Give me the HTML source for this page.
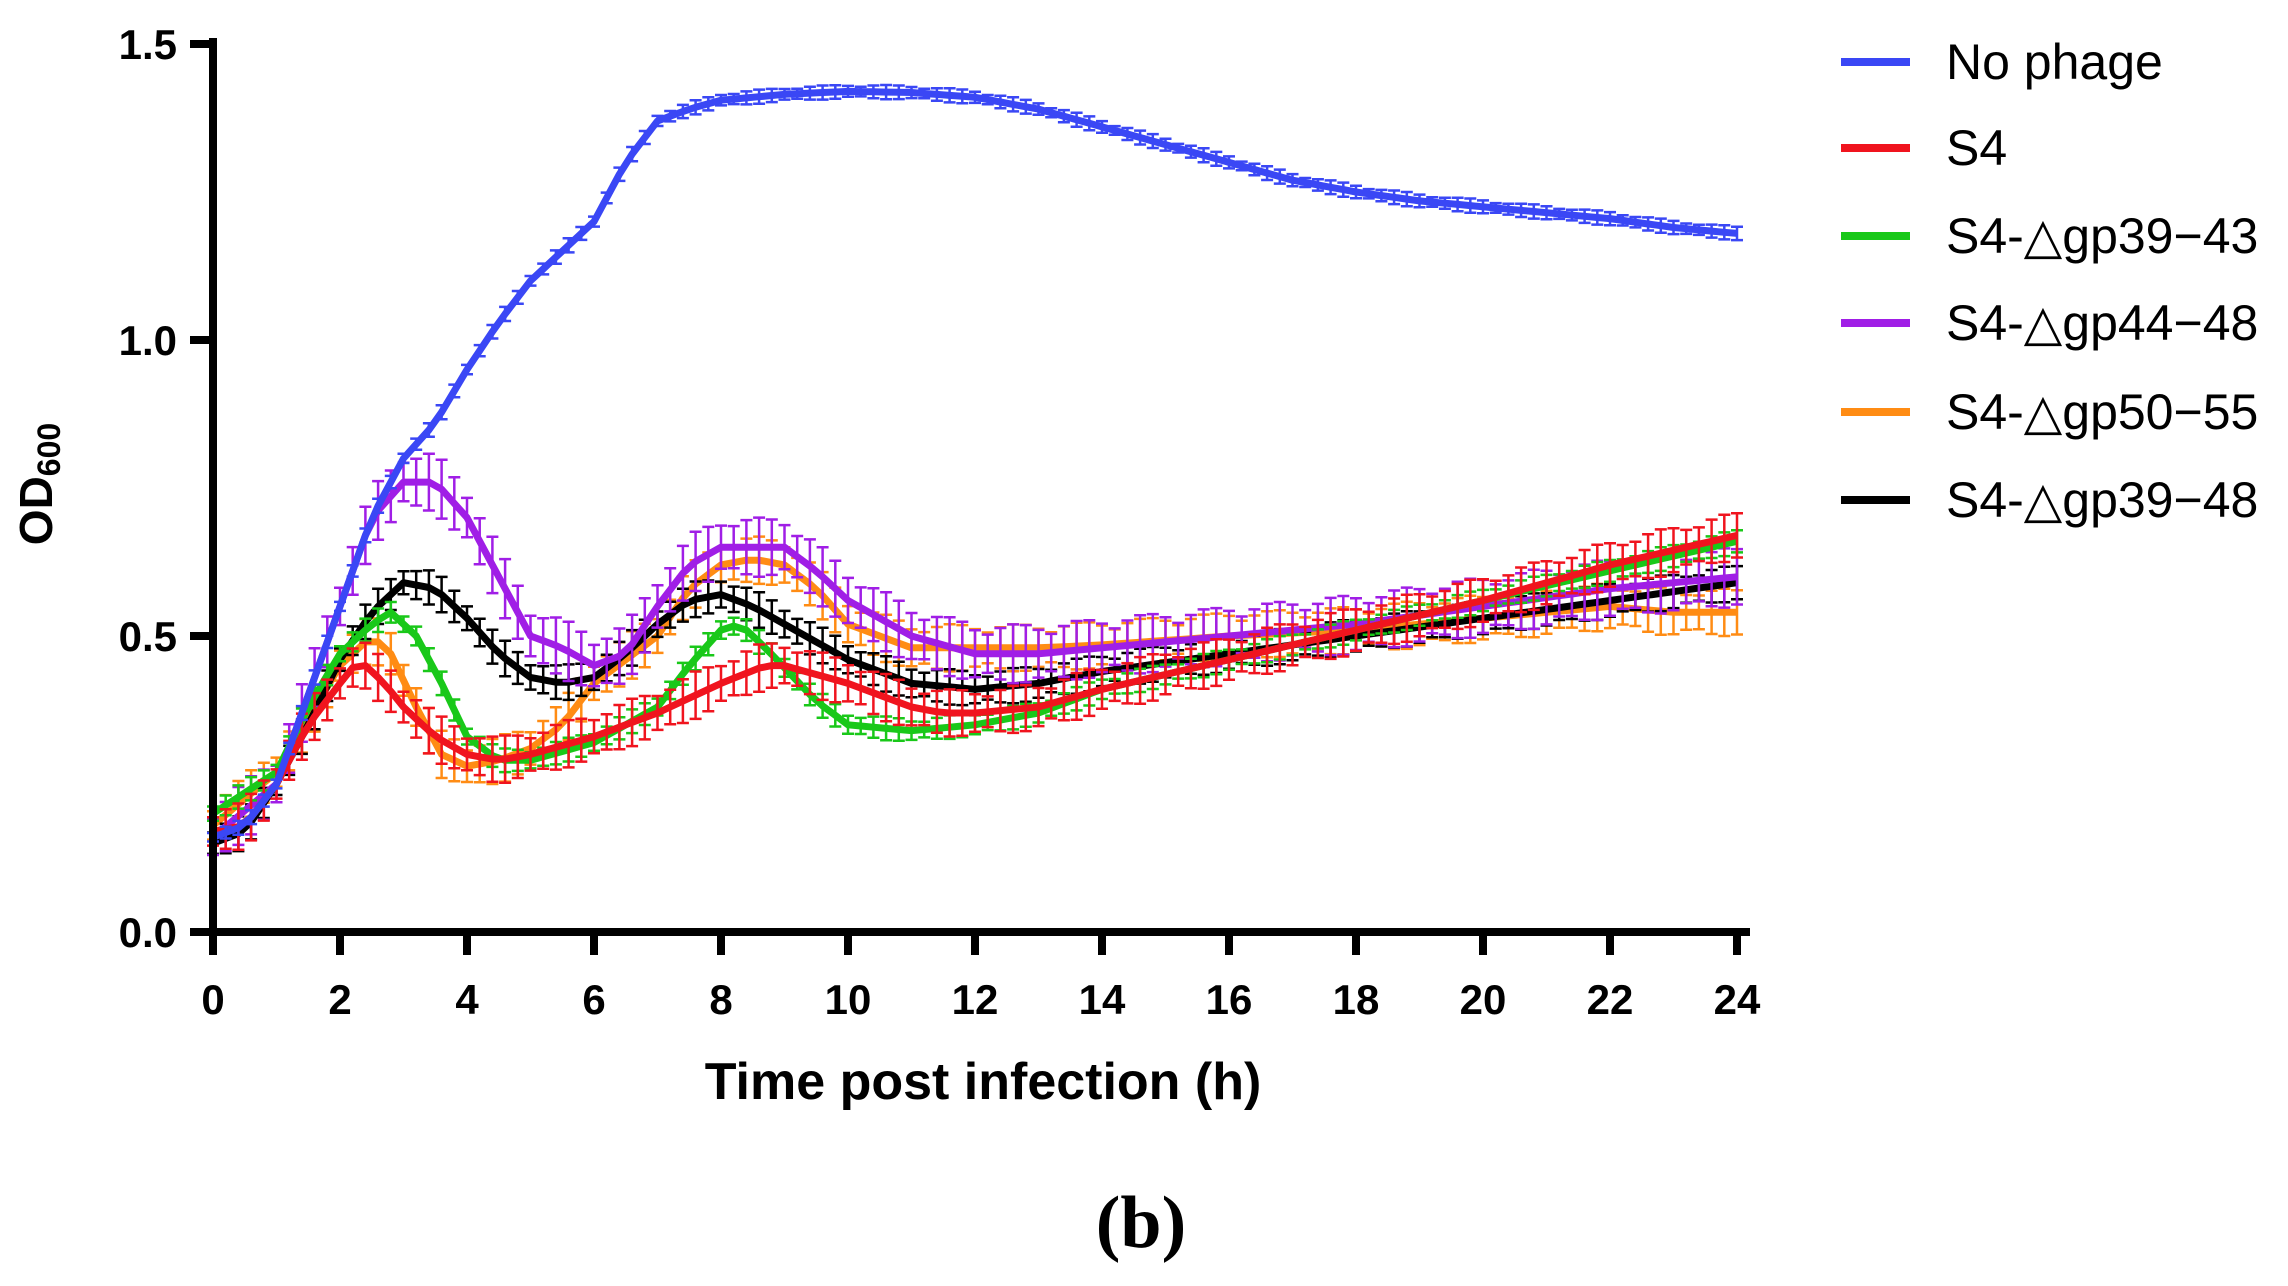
<!DOCTYPE html>
<html><head><meta charset="utf-8"><style>
html,body{margin:0;padding:0;background:#fff;}
svg{display:block;}
text{font-family:"Liberation Sans",Arial,sans-serif;}
</style></head><body>
<svg id="s" width="2288" height="1286" viewBox="0 0 2288 1286" xmlns="http://www.w3.org/2000/svg">
<g id="data"></g>
<line x1="213" y1="38" x2="213" y2="936" stroke="#000" stroke-width="8"/>
<line x1="209" y1="932" x2="1750" y2="932" stroke="#000" stroke-width="8"/>
<g stroke="#000" stroke-width="8" id="ticks"></g>
<g font-size="42" font-weight="bold" text-anchor="end">
<text x="177" y="947">0.0</text><text x="177" y="651">0.5</text><text x="177" y="355">1.0</text><text x="177" y="59">1.5</text>
</g>
<g font-size="42" font-weight="bold" text-anchor="middle" id="xl"></g>
<text x="983" y="1099" font-size="52" font-weight="bold" text-anchor="middle">Time post infection (h)</text>
<text transform="translate(52,484) rotate(-90)" font-size="46" font-weight="bold" text-anchor="middle">OD<tspan font-size="32" dy="8">600</tspan></text>
<text x="1141" y="1247" font-size="74" font-weight="bold" text-anchor="middle" style="font-family:'Liberation Serif',serif">(b)</text>
<g font-size="50">
<line x1="1841" y1="62" x2="1910" y2="62" stroke="#3a47f5" stroke-width="8"/><text x="1946" y="79">No phage</text>
<line x1="1841" y1="148" x2="1910" y2="148" stroke="#f0141e" stroke-width="8"/><text x="1946" y="165">S4</text>
<line x1="1841" y1="236" x2="1910" y2="236" stroke="#19c819" stroke-width="8"/><text x="1946" y="253">S4-△gp39−43</text>
<line x1="1841" y1="323" x2="1910" y2="323" stroke="#a01ee6" stroke-width="8"/><text x="1946" y="340">S4-△gp44−48</text>
<line x1="1841" y1="412" x2="1910" y2="412" stroke="#ff8c14" stroke-width="8"/><text x="1946" y="429">S4-△gp50−55</text>
<line x1="1841" y1="500" x2="1910" y2="500" stroke="#000" stroke-width="8"/><text x="1946" y="517">S4-△gp39−48</text>
</g>
</svg>
<script>
var NS="http://www.w3.org/2000/svg";
function X(t){return 213+t*63.5;}function Y(v){return 932-v*592;}
var tk=document.getElementById('ticks'),xl=document.getElementById('xl');
for(var i=0;i<=24;i+=2){var l=document.createElementNS(NS,'line');l.setAttribute('x1',X(i));l.setAttribute('x2',X(i));l.setAttribute('y1',932);l.setAttribute('y2',955);tk.appendChild(l);
var t=document.createElementNS(NS,'text');t.setAttribute('x',X(i));t.setAttribute('y',1014);t.textContent=i;xl.appendChild(t);}
[0,0.5,1,1.5].forEach(function(v){var l=document.createElementNS(NS,'line');l.setAttribute('x1',190);l.setAttribute('x2',213);l.setAttribute('y1',Y(v));l.setAttribute('y2',Y(v));tk.appendChild(l);});
function P(a){var r=[];for(var i=0;i<a.length;i+=2)r.push([a[i],a[i+1]]);return r;}
var S=[
["#ff8c14",P([0,0.18,1,0.27,2,0.45,2.5,0.5,2.8,0.47,3.2,0.38,3.6,0.3,4,0.28,4.5,0.29,5,0.31,5.5,0.35,6,0.42,7,0.5,7.5,0.58,8,0.62,8.5,0.63,9,0.62,9.5,0.58,10,0.52,11,0.48,12,0.48,13,0.48,14,0.485,16,0.5,18,0.51,20,0.53,22,0.55,23,0.54,24,0.54]),0.04],
["#000000",P([0,0.15,0.5,0.17,1,0.25,1.5,0.35,2,0.46,2.5,0.54,3,0.59,3.5,0.58,4,0.53,4.5,0.47,5,0.43,5.5,0.42,6,0.43,6.5,0.47,7,0.52,7.5,0.56,8,0.57,8.5,0.55,9,0.52,10,0.46,11,0.42,12,0.41,13,0.42,14,0.44,16,0.47,18,0.5,20,0.53,22,0.56,24,0.59]),0.03],
["#a01ee6",P([0,0.16,1,0.25,2,0.55,2.5,0.7,3,0.76,3.5,0.76,4,0.7,4.5,0.6,5,0.5,5.5,0.48,6,0.45,6.5,0.47,7,0.55,7.5,0.62,8,0.65,9,0.65,9.5,0.61,10,0.56,11,0.5,12,0.47,13,0.47,14,0.48,15,0.49,16,0.5,18,0.52,20,0.55,22,0.58,24,0.6]),0.05],
["#19c819",P([0,0.2,1,0.27,1.5,0.38,2,0.47,2.5,0.52,2.8,0.54,3.2,0.5,3.6,0.42,4,0.33,4.5,0.29,5,0.29,6,0.32,7,0.38,7.5,0.45,8,0.51,8.3,0.52,8.7,0.48,9.5,0.39,10,0.35,11,0.34,12,0.35,13,0.37,14,0.41,16,0.46,18,0.51,20,0.56,22,0.61,24,0.66]),0.02],
["#f0141e",P([0,0.17,0.5,0.18,1,0.25,1.5,0.35,2,0.42,2.3,0.46,2.7,0.42,3,0.38,3.5,0.33,4,0.3,4.5,0.29,5,0.3,6,0.33,7,0.37,8,0.42,8.7,0.45,9,0.45,10,0.42,11,0.38,11.5,0.37,12,0.37,13,0.38,14,0.41,16,0.46,18,0.51,20,0.56,22,0.62,24,0.67]),0.04],
["#3a47f5",P([0,0.16,0.5,0.18,1,0.25,1.5,0.4,2,0.55,2.5,0.7,3,0.8,3.5,0.86,4,0.95,4.5,1.03,5,1.1,5.5,1.15,6,1.2,6.5,1.3,7,1.37,7.5,1.39,8,1.405,9,1.415,10,1.42,11,1.418,12,1.41,13,1.39,14,1.36,15,1.33,16,1.3,17,1.27,18,1.25,19,1.235,20,1.225,21,1.215,22,1.205,23,1.19,24,1.18]),0.012]
];
function val(p,t){for(var i=0;i<p.length-1;i++){if(t<=p[i+1][0]){var f=(t-p[i][0])/(p[i+1][0]-p[i][0]);return p[i][1]+f*(p[i+1][1]-p[i][1]);}}return p[p.length-1][1];}
var g=document.getElementById('data');
S.forEach(function(s){var c=s[0],p=s[1],e=s[2],d="",eb="";
for(var t=0;t<=24.001;t+=0.2){var v=val(p,t),x=X(t),y=Y(v);d+=(t==0?"M":"L")+x.toFixed(1)+","+y.toFixed(1);
var h=e*592*(0.6+0.4*Math.abs(Math.sin(t*3.1)));eb+="M"+x.toFixed(1)+","+(y-h).toFixed(1)+"V"+(y+h).toFixed(1)+"M"+(x-6).toFixed(1)+","+(y-h).toFixed(1)+"h12M"+(x-6).toFixed(1)+","+(y+h).toFixed(1)+"h12";}
var a=document.createElementNS(NS,'path');a.setAttribute('d',eb);a.setAttribute('stroke',c);a.setAttribute('stroke-width','2.5');a.setAttribute('fill','none');g.appendChild(a);
var b=document.createElementNS(NS,'path');b.setAttribute('d',d);b.setAttribute('stroke',c);b.setAttribute('stroke-width','7');b.setAttribute('fill','none');b.setAttribute('stroke-linejoin','round');g.appendChild(b);});
</script>
</body></html>
